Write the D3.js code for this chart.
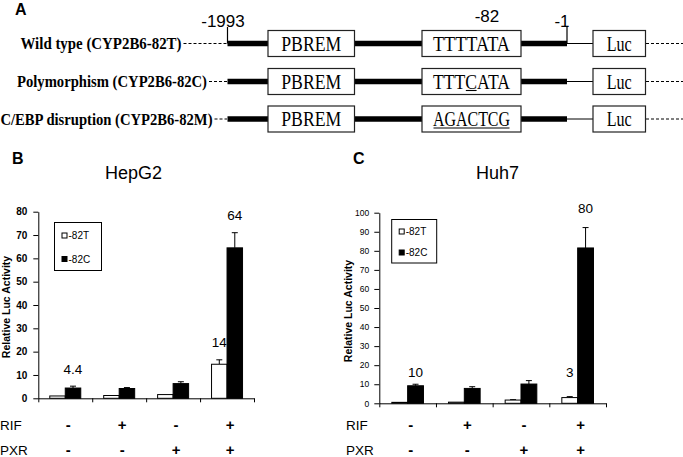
<!DOCTYPE html>
<html><head><meta charset="utf-8">
<script src="https://cdn.jsdelivr.net/npm/d3@7"></script>
<style>body{margin:0;background:#fff}svg{display:block}</style>
</head><body>
<svg id="fig" width="683" height="457"></svg>
<script>
// ---------- DATA ----------
const treatments = ["g1", "g2", "g3", "g4"];
const rifSigns = ["-", "+", "-", "+"];
const pxrSigns = ["-", "-", "+", "+"];
const seriesNames = ["-82T", "-82C"];

const hepT    = [1.0, 1.2, 1.6, 14.6];
const hepTErr = [0, 0, 0, 1.9];
const hepC    = [4.4, 4.2, 6.3, 64.5];
const hepCErr = [0.8, 0.4, 0.8, 6.5];
const hepTicks = [0, 10, 20, 30, 40, 50, 60, 70, 80];
const hepNoteText = ["4.4", "14", "64"];
const hepNoteGroup = [0, 3, 3];
const hepNoteSeries = [1, 0, 1];
const hepNoteAt = [10.4, 21.8, 76.5];

const huhT    = [0.5, 0.6, 1.7, 3.0];
const huhTErr = [0, 0, 0.2, 0.5];
const huhC    = [9.2, 7.8, 10.1, 81.5];
const huhCErr = [0.8, 0.9, 1.8, 10.7];
const huhTicks = [0, 10, 20, 30, 40, 50, 60, 70, 80, 90, 100];
const huhNoteText = ["10", "3", "80"];
const huhNoteGroup = [0, 3, 3];
const huhNoteSeries = [1, 0, 1];
const huhNoteAt = [14, 14, 99.6];

const constructNames = ["Wild type (CYP2B6-82T)", "Polymorphism (CYP2B6-82C)", "C/EBP disruption (CYP2B6-82M)"];
const coreSeqs = ["TTTTATA", "TTTCATA", "AGACTCG"];
const coreUnderline = [[], [3], [0, 1, 2, 3, 4, 5, 6]];
const positionLabels = ["-1993", "-82", "-1"];

// ---------- DRAW ----------
const svg = d3.select("#fig");
const SANS = "Liberation Sans, Arial, sans-serif";
const SERIF = "Liberation Serif, Times New Roman, serif";

// Panel A
const rowsY = [43.5, 81.5, 119];
const A = svg.append("g");
A.append("text").attr("x", 15).attr("y", 15).text("A")
  .attr("font-family", SANS).attr("font-weight", "bold").attr("font-size", 16);

const labelSpec = [[20.5, 161], [17, 190], [0.5, 212]];
rowsY.forEach((cy, r) => {
  const g = A.append("g");
  g.append("text").attr("x", labelSpec[r][0]).attr("y", cy + 5.5)
    .attr("textLength", labelSpec[r][1]).attr("lengthAdjust", "spacingAndGlyphs")
    .attr("font-family", SERIF).attr("font-weight", "bold").attr("font-size", 16)
    .text(constructNames[r]);
  g.append("line").attr("x1", labelSpec[r][0] + labelSpec[r][1] + 2).attr("x2", 227).attr("y1", cy).attr("y2", cy)
    .attr("stroke", "#000").attr("stroke-width", 1).attr("stroke-dasharray", "3,2");
  g.append("line").attr("x1", 646).attr("x2", 683).attr("y1", cy).attr("y2", cy)
    .attr("stroke", "#000").attr("stroke-width", 1).attr("stroke-dasharray", "3,2");
  [[227.5, 268], [354.5, 422], [521, 567]].forEach(s => {
    g.append("line").attr("x1", s[0]).attr("x2", s[1]).attr("y1", cy).attr("y2", cy)
      .attr("stroke", "#000").attr("stroke-width", 5.5);
  });
  g.append("line").attr("x1", 567).attr("x2", 593).attr("y1", cy).attr("y2", cy)
    .attr("stroke", "#000").attr("stroke-width", 1);
  const boxes = [[268, 354.5, "PBREM", 60], [422, 521, coreSeqs[r], 77], [593, 645.5, "Luc", 25]];
  boxes.forEach((b, bi) => {
    g.append("rect").attr("x", b[0]).attr("y", cy - 13).attr("width", b[1] - b[0]).attr("height", 26)
      .attr("fill", "#fff").attr("stroke", "#222").attr("stroke-width", 1.2);
    const t = g.append("text").attr("x", (b[0] + b[1]) / 2).attr("y", cy + 7)
      .attr("text-anchor", "middle").attr("font-family", SERIF).attr("font-size", 20)
      .attr("textLength", b[3]).attr("lengthAdjust", "spacingAndGlyphs")
      .text(b[2]);
    if (bi === 1 && coreUnderline[r].length) {
      // underline the marked characters
      const node = t.node();
      const idx = coreUnderline[r];
      const first = node.getExtentOfChar(idx[0]);
      const last = node.getExtentOfChar(idx[idx.length - 1]);
      g.append("line").attr("x1", first.x + 0.5).attr("x2", last.x + last.width - 0.5)
        .attr("y1", cy + 9).attr("y2", cy + 9).attr("stroke", "#000").attr("stroke-width", 1.1);
    }
  });
});
[227.5, 567].forEach(mx => {
  A.append("line").attr("x1", mx).attr("x2", mx).attr("y1", 27).attr("y2", rowsY[0])
    .attr("stroke", "#000").attr("stroke-width", 1.2);
});
A.append("text").attr("x", 223).attr("y", 27).attr("text-anchor", "middle").attr("font-family", SANS).attr("font-size", 17).text(positionLabels[0]);
A.append("text").attr("x", 487).attr("y", 22).attr("text-anchor", "middle").attr("font-family", SANS).attr("font-size", 17).text(positionLabels[1]);
A.append("text").attr("x", 562).attr("y", 27).attr("text-anchor", "middle").attr("font-family", SANS).attr("font-size", 17).text(positionLabels[2]);

// Bar panels
function panel(o) {
  const g = svg.append("g");
  const xg = d3.scaleBand().domain(treatments).range(o.xr).paddingInner(0).paddingOuter(0);
  const xs = d3.scaleBand().domain(seriesNames).range([0, xg.bandwidth()]).paddingInner(0).paddingOuter(o.po);
  const y = d3.scaleLinear().domain([0, o.max]).range(o.yr);
  const xl = d3.scaleLinear().domain([0, treatments.length]).range(o.xr);

  g.append("text").attr("x", o.letterX).attr("y", 164).text(o.letter)
    .attr("font-family", SANS).attr("font-weight", "bold").attr("font-size", 16);
  g.append("text").attr("x", o.titleX).attr("y", 179).text(o.title)
    .attr("font-family", SANS).attr("font-size", 18);

  const yAxis = g.append("g").attr("transform", `translate(${o.xr[0]},0)`)
    .call(d3.axisLeft(y).tickValues(o.ticks).tickSize(5).tickSizeOuter(0).tickPadding(o.tp));
  yAxis.selectAll("text").attr("font-family", SANS).attr("font-size", o.tickFs)
    .attr("font-weight", o.tickBold ? "bold" : "normal").attr("fill", "#000");
  yAxis.selectAll("line,path").attr("stroke", "#000");

  const xAxis = g.append("g").attr("transform", `translate(0,${o.yr[0]})`)
    .call(d3.axisBottom(xl).tickValues(d3.range(treatments.length + 1)).tickFormat("").tickSize(4).tickSizeOuter(0));
  xAxis.selectAll("line,path").attr("stroke", "#000");

  g.append("text").attr("transform", `translate(${o.ylabX},${o.ylabY}) rotate(-90)`)
    .attr("text-anchor", "middle").attr("font-family", SANS).attr("font-weight", "bold").attr("font-size", 10.5)
    .text("Relative Luc Activity");

  const series = [[o.T, o.TErr, "#fff"], [o.C, o.CErr, "#000"]];
  series.forEach((s, si) => {
    treatments.forEach((t, i) => {
      const bx = xg(t) + xs(seriesNames[si]);
      const bw = xs.bandwidth();
      const v = s[0][i], e = s[1][i];
      if (e > 0) {
        const cx = bx + bw / 2;
        g.append("line").attr("x1", cx).attr("x2", cx).attr("y1", y(v)).attr("y2", y(v + e)).attr("stroke", "#000");
        g.append("line").attr("x1", cx - 3).attr("x2", cx + 3).attr("y1", y(v + e)).attr("y2", y(v + e)).attr("stroke", "#000");
      }
      g.append("rect").attr("x", bx).attr("y", y(v)).attr("width", bw).attr("height", y(0) - y(v))
        .attr("fill", s[2]).attr("stroke", "#000").attr("stroke-width", 1);
    });
  });

  o.noteText.forEach((txt, k) => {
    const bx = xg(treatments[o.noteGroup[k]]) + xs(seriesNames[o.noteSeries[k]]) + xs.bandwidth() / 2;
    g.append("text").attr("x", bx).attr("y", y(o.noteAt[k])).attr("text-anchor", "middle")
      .attr("font-family", SANS).attr("font-size", 13.5).text(txt);
  });

  const L = o.leg;
  g.append("rect").attr("x", L[0]).attr("y", L[1]).attr("width", L[2]).attr("height", L[3])
    .attr("fill", "#fff").attr("stroke", "#000").attr("stroke-width", 1);
  seriesNames.forEach((n, si) => {
    const ly = L[1] + L[4] + si * L[5];
    g.append("rect").attr("x", L[0] + 7.5).attr("y", ly - 6).attr("width", 5).attr("height", 5)
      .attr("fill", si ? "#000" : "#fff").attr("stroke", "#000").attr("stroke-width", 1);
    g.append("text").attr("x", L[0] + 14).attr("y", ly).attr("font-family", SANS).attr("font-size", 10).text(n);
  });

  [["RIF", rifSigns, 430], ["PXR", pxrSigns, 455]].forEach(row => {
    g.append("text").attr("x", o.rowX).attr("y", row[2]).attr("font-family", SANS).attr("font-size", 13.5).text(row[0]);
    treatments.forEach((t, i) => {
      g.append("text").attr("x", xg(t) + xg.bandwidth() / 2 + 3).attr("y", row[2])
        .attr("text-anchor", "middle").attr("font-family", SANS).attr("font-weight", "bold").attr("font-size", 15)
        .text(row[1][i]);
    });
  });
}

panel({ xr: [38.3, 254], yr: [398.3, 211.7], max: 80, po: 0.74, ticks: hepTicks, tickFs: 10, tickBold: true, tp: 6,
  T: hepT, TErr: hepTErr, C: hepC, CErr: hepCErr,
  noteText: hepNoteText, noteGroup: hepNoteGroup, noteSeries: hepNoteSeries, noteAt: hepNoteAt,
  letter: "B", letterX: 12, title: "HepG2", titleX: 105, ylabX: 10, ylabY: 307,
  leg: [54.5, 222.5, 47, 48, 16.5, 23.5], rowX: 0 });

panel({ xr: [379.3, 606], yr: [403.3, 212.7], max: 100, po: 0.79, ticks: huhTicks, tickFs: 8.5, tickBold: false, tp: 5,
  T: huhT, TErr: huhTErr, C: huhC, CErr: huhCErr,
  noteText: huhNoteText, noteGroup: huhNoteGroup, noteSeries: huhNoteSeries, noteAt: huhNoteAt,
  letter: "C", letterX: 353, title: "Huh7", titleX: 476, ylabX: 352, ylabY: 311,
  leg: [391.7, 219.5, 45, 43.5, 15.5, 21], rowX: 346 });
</script>
</body></html>
